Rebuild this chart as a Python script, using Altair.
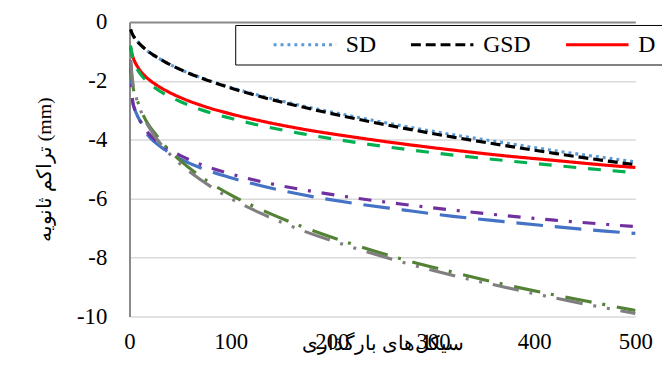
import altair as alt
import pandas as pd

# loading cycles (x)
cycles = [1, 2, 3, 5, 8, 12, 18, 25, 35, 50, 70, 100, 130, 170, 220, 270, 320, 370, 420, 470, 500]

# secondary settlement (mm) per series
sd = [-0.25, -0.34, -0.42, -0.54, -0.67, -0.81, -0.99, -1.15, -1.35, -1.61, -1.88,
      -2.22, -2.51, -2.84, -3.20, -3.53, -3.83, -4.10, -4.37, -4.61, -4.75]
gsd = [-0.25, -0.34, -0.42, -0.54, -0.67, -0.81, -0.99, -1.15, -1.35, -1.61, -1.89,
       -2.24, -2.54, -2.88, -3.26, -3.60, -3.91, -4.19, -4.46, -4.71, -4.85]
d = [-0.85, -1.03, -1.15, -1.33, -1.52, -1.71, -1.92, -2.10, -2.31, -2.56, -2.82,
     -3.12, -3.36, -3.63, -3.90, -4.14, -4.35, -4.54, -4.70, -4.86, -4.94]
s4 = [-0.80, -1.00, -1.22, -1.43, -1.63, -1.82, -2.04, -2.23, -2.45, -2.70, -2.97,
      -3.27, -3.52, -3.79, -4.07, -4.31, -4.52, -4.70, -4.87, -5.03, -5.12]
s5 = [-1.30, -2.20, -2.70, -2.95, -3.20, -3.45, -3.83, -4.08, -4.34, -4.65, -4.95,
      -5.29, -5.56, -5.86, -6.15, -6.38, -6.60, -6.78, -6.95, -7.10, -7.18]
s6 = [-1.30, -2.20, -2.65, -2.95, -3.20, -3.45, -3.75, -3.99, -4.25, -4.53, -4.83,
      -5.16, -5.42, -5.69, -5.96, -6.19, -6.39, -6.57, -6.73, -6.87, -6.95]
s7 = [-1.45, -1.80, -2.10, -2.45, -2.70, -3.05, -3.45, -3.78, -4.20, -4.70, -5.24,
      -5.87, -6.37, -6.94, -7.54, -8.06, -8.50, -8.91, -9.27, -9.60, -9.80]
s8 = [-1.30, -1.65, -2.00, -2.35, -2.72, -3.09, -3.50, -3.88, -4.31, -4.82, -5.35,
      -5.99, -6.50, -7.07, -7.65, -8.16, -8.61, -9.00, -9.37, -9.71, -9.90]

series_names = ["SD", "GSD", "D", "S4", "S5", "S6", "S7", "S8"]
series_values = [sd, gsd, d, s4, s5, s6, s7, s8]
series_colors = ["#5B9BD5", "#000000", "#FF0000", "#00B050", "#4472C4", "#7030A0", "#548235", "#7F7F7F"]
series_dashes = [[3, 4], [10, 5], [1, 0], [13, 12], [27, 12], [13, 11, 3, 11],
                 [27, 11, 3, 12], [27, 11, 3, 11, 3, 11]]

x_ticks = [0, 100, 200, 300, 400, 500]
y_ticks = [-10, -8, -6, -4, -2, 0]

FONT = "Liberation Serif"

rows = []
for name, vals in zip(series_names, series_values):
    for xv, yv in zip(cycles, vals):
        rows.append({"cycle": xv, "settle": yv, "series": name})
df = pd.DataFrame(rows)

legend = alt.Legend(
    values=["SD", "GSD", "D", "S4"],
    orient="none", legendX=107, legendY=3, direction="horizontal", columns=4,
    title=" ", titleOrient="left", titlePadding=30, titleFontSize=24, titleFont=FONT,
    symbolType="stroke", symbolSize=4000, symbolStrokeWidth=3, clipHeight=26,
    labelFont=FONT, labelFontSize=24, labelFontWeight="normal", labelColor="black", labelOffset=8,
    columnPadding=33, padding=7, strokeColor="black", fillColor="white",
)

chart = alt.Chart(df).mark_line(strokeWidth=3.2, interpolate="monotone").encode(
    x=alt.X("cycle:Q", scale=alt.Scale(domain=[0, 500], nice=False),
            axis=alt.Axis(values=x_ticks, grid=False, domain=False, ticks=False, labelFlush=False,
                          labelFont=FONT, labelFontSize=23, labelColor="black",
                          labelPadding=14, title="سیکل‌های بارگذاری",
                          titleFont=FONT, titleFontSize=20,
                          titleFontWeight="normal", titleColor="black",
                          titleY=27, titleBaseline="middle")),
    y=alt.Y("settle:Q", scale=alt.Scale(domain=[-10, 0], nice=False),
            axis=alt.Axis(values=y_ticks, ticks=False, domainColor="#898989", domainWidth=2,
                          gridColor={"condition": {"test": "datum.value === 0", "value": "#898989"}, "value": "#D9D9D9"},
                          gridWidth={"condition": {"test": "datum.value === 0", "value": 2}, "value": 1.5},
                          labelExpr="datum.value < 0 ? '-' + abs(datum.value) : '' + datum.value",
                          labelFont=FONT, labelFontSize=23, labelColor="black",
                          labelPadding=23, title="تراکم ثانویه (mm)",
                          titleFont=FONT, titleFontSize=20,
                          titleFontWeight="normal", titleColor="black",
                          titleX=-86, titleY=149, titleAngle=270, titleAlign="center",
                          titleBaseline="middle")),
    color=alt.Color("series:N", scale=alt.Scale(domain=series_names, range=series_colors), legend=legend),
    strokeDash=alt.StrokeDash("series:N", scale=alt.Scale(domain=series_names, range=series_dashes), legend=legend),
).properties(
    width=512, height=298,
    autosize=alt.AutoSizeParams(type="none"),
    padding={"left": 123, "top": 12, "right": 27, "bottom": 50},
).configure(
    background="white"
).configure_view(stroke=None)

chart.save("out.html", embed_options={"renderer": "svg", "actions": False})
